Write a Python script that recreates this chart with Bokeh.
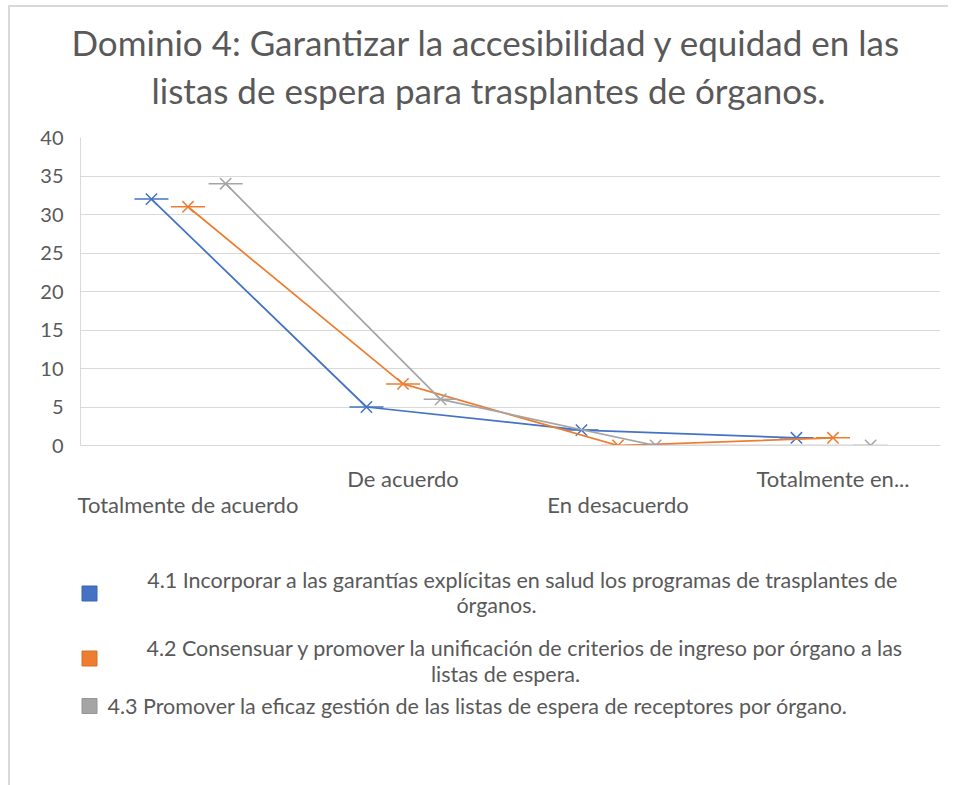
from bokeh.plotting import figure
from bokeh.models import FixedTicker, LinearAxis, Range1d, Title
from bokeh.layouts import column
from bokeh.core.properties import value
from bokeh.embed import file_html
from bokeh.resources import INLINE

# ---- data ----
categories = ["Totalmente de acuerdo", "De acuerdo", "En desacuerdo", "Totalmente en desacuerdo"]
tick_labels = ["Totalmente de acuerdo", "De acuerdo", "En desacuerdo", "Totalmente en..."]
values_41 = [32, 5, 2, 1]
values_42 = [31, 8, 0, 1]
values_43 = [34, 6, 0, 0]
y_ticks = [0, 5, 10, 15, 20, 25, 30, 35, 40]
series_names = [
    "4.1 Incorporar a las garantías explícitas en salud los programas de trasplantes de órganos.",
    "4.2 Consensuar y promover la unificación de criterios de ingreso por órgano a las listas de espera.",
    "4.3 Promover la eficaz gestión de las listas de espera de receptores por órgano.",
]
legend_lines = [
    ["4.1 Incorporar a las garantías explícitas en salud los programas de trasplantes de", "órganos."],
    ["4.2 Consensuar y promover la unificación de criterios de ingreso por órgano a las", "listas de espera."],
    ["4.3 Promover la eficaz gestión de las listas de espera de receptores por órgano."],
]
title_lines = ["Dominio 4: Garantizar la accesibilidad y equidad en las",
               "listas de espera para trasplantes de órganos."]

FONT = "Lato"
TXT = "#595959"
GRID = "#D9D9D9"
colors = ["#4472C4", "#ED7D31", "#A5A5A5"]
offsets = [-0.17, 0.0, 0.175]

# ---- main chart ----
p = figure(width=938, height=518, output_backend="svg", toolbar_location=None, title=None,
           x_range=Range1d(-0.5, len(categories) - 0.5), y_range=Range1d(0, 40),
           min_border_left=70, min_border_right=8, min_border_top=130, min_border_bottom=80)
p.outline_line_color = None

# title (two lines)
t2 = Title(text=title_lines[1], align="left", offset=71, standoff=54,
           text_font=FONT, text_font_size="35px", text_color=TXT, text_font_style="normal")
t1 = Title(text=title_lines[0], align="left", offset=-9, standoff=-46,
           text_font=FONT, text_font_size="35px", text_color=TXT, text_font_style="normal")
p.add_layout(t2, "above")
p.add_layout(t1, "above")

# y axis
p.yaxis.ticker = FixedTicker(ticks=y_ticks)
p.yaxis.major_tick_out = 0
p.yaxis.major_tick_in = 0
p.yaxis.minor_tick_out = 0
p.yaxis.minor_tick_in = 0
p.yaxis.major_label_standoff = 17
p.yaxis.axis_line_color = GRID
p.yaxis.major_label_text_font = FONT
p.yaxis.major_label_text_font_size = "20px"
p.yaxis.major_label_text_color = TXT
p.ygrid.ticker = FixedTicker(ticks=y_ticks)
p.ygrid.grid_line_color = GRID
p.xgrid.grid_line_color = None

# x axes: staggered category labels
idx = list(range(len(categories)))
ax1 = p.xaxis[0]
ax1.ticker = FixedTicker(ticks=[i for i in idx if i % 2 == 1])
ax1.major_label_overrides = {i: tick_labels[i] for i in idx if i % 2 == 1}
ax2 = LinearAxis(ticker=FixedTicker(ticks=[i for i in idx if i % 2 == 0]),
                 major_label_overrides={i: tick_labels[i] for i in idx if i % 2 == 0})
for ax, so in ((ax1, 19), (ax2, -4)):
    ax.major_tick_out = 0
    ax.major_tick_in = 0
    ax.minor_tick_out = 0
    ax.minor_tick_in = 0
    ax.major_label_standoff = so
    ax.major_label_text_font = FONT
    ax.major_label_text_font_size = "22px"
    ax.major_label_text_color = TXT
ax1.axis_line_color = GRID
ax2.axis_line_color = None
p.add_layout(ax2, "below")

# series
for vals, col, off in zip([values_41, values_42, values_43], colors, offsets):
    xs = [i + off for i in idx]
    p.line(xs, vals, line_color=col, line_width=1.75)
    p.scatter(xs, vals, marker="x", size=16, line_color=col, line_width=1.5)
    p.scatter(xs, vals, marker="dash", size=34, line_color=col, line_width=1.5)

# ---- legend panel (its frame is aligned with the chart frame; page-pixel coordinates) ----
lg = figure(width=938, height=260, output_backend="svg", toolbar_location=None,
            x_range=Range1d(80, 940), y_range=Range1d(785, 525),
            min_border=0, x_axis_type=None, y_axis_type=None)
lg.outline_line_color = None
lg.grid.visible = False

sq_x = 89
sq_y = [593, 658, 705.5]
line_pos = [[(522, 579), (496, 604)], [(525, 647), (505, 673)], [(107, 705)]]
edge = ["#3A64B0", "#D96F27", "#959595"]
lg.rect(x=[sq_x] * 3, y=sq_y, width=15, height=15, fill_color=colors,
        line_color=edge, line_width=1)
for k in range(3):
    pos = line_pos[k]
    lg.text(x=[q[0] for q in pos], y=[q[1] for q in pos], text=legend_lines[k],
            text_font=value(FONT), text_font_size="21.5px", text_color=TXT,
            text_align="center" if len(pos) > 1 else "left", text_baseline="middle")

layout = column(p, lg, margin=(5, 0, 0, 8),
                styles={"border-left": "2px solid #D9D9D9", "border-top": "2px solid #D9D9D9"})

open("out.html", "w").write(file_html(layout, INLINE))
